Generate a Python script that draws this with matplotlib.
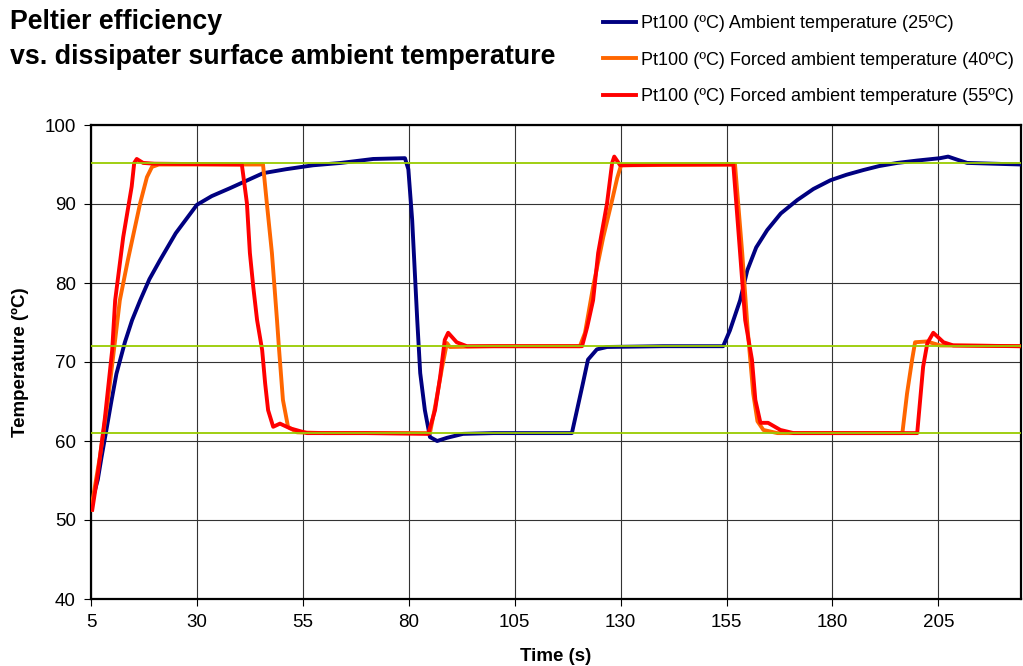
import matplotlib as mpl
import matplotlib.pyplot as plt

mpl.use("Agg")
mpl.rcParams.update({"font.family": ["Liberation Sans", "DejaVu Sans"]})

# Pt100 readings (time s, temperature ºC)
ambient_t = [5.3, 6.6, 7.5, 8.5, 9.8, 11.0, 13.0, 14.7, 16.6, 18.8, 21.3, 25.0, 30.0, 33.5, 37.8, 45.6,
             51.0, 57.4, 64.0, 71.6, 79.1, 79.9, 80.8, 82.0, 82.7, 83.8, 85.0, 86.7, 89.0, 92.8,
             100.0, 110.0, 118.5, 119.7, 121.1, 122.3, 124.4, 126.8, 140.0, 154.2, 155.8, 158.2,
             159.9, 162.0, 164.6, 167.8, 171.7, 175.5, 179.5, 183.3, 187.3, 191.0, 195.3, 200.0,
             205.4, 207.3, 209.5, 211.8, 218.0, 224.5]
ambient_T = [52.5, 55.1, 58.0, 61.0, 65.0, 68.5, 72.5, 75.3, 77.8, 80.5, 82.9, 86.3, 89.9, 91.0, 92.0,
             93.9, 94.4, 94.9, 95.2, 95.7, 95.8, 94.4, 88.0, 75.3, 68.6, 63.9, 60.5, 60.0, 60.4,
             60.9, 61.0, 61.0, 61.0, 63.9, 67.3, 70.3, 71.6, 71.9, 72.0, 72.0, 74.0, 77.8,
             81.6, 84.5, 86.7, 88.8, 90.5, 91.9, 93.0, 93.7, 94.3, 94.8, 95.2, 95.5,
             95.8, 96.0, 95.6, 95.2, 95.1, 95.0]

forced40_t = [5.0, 7.1, 9.0, 10.7, 11.8, 13.7, 16.6, 18.2, 19.4, 21.0, 45.6, 46.5, 47.7, 48.9,
              49.4, 50.3, 51.5, 53.6, 60.0, 84.6, 85.0, 86.2, 87.9, 89.0, 89.7, 100.0, 120.4,
              121.6, 123.5, 125.9, 128.0, 129.2, 130.1, 157.0, 158.7, 160.0, 161.3, 162.3, 163.7,
              167.0, 196.5, 197.6, 198.8, 199.5, 202.3, 205.4, 224.5]
forced40_T = [51.3, 58.0, 65.2, 72.8, 77.8, 82.9, 90.1, 93.4, 94.7, 95.0, 95.0, 90.1, 83.8, 75.3,
              71.5, 65.2, 61.8, 61.1, 61.0, 61.0, 61.0, 64.3, 69.4, 72.4, 71.9, 72.0, 72.0,
              73.7, 79.5, 85.8, 90.5, 93.3, 94.9, 95.0, 83.8, 74.0, 66.0, 62.5, 61.4,
              61.0, 61.0, 66.0, 70.3, 72.5, 72.6, 72.1, 72.0]

forced55_t = [5.3, 6.65, 8.3, 10.0, 10.7, 12.6, 14.6, 15.2, 15.8, 17.3, 20.0, 40.6, 41.8, 42.5,
              43.3, 44.2, 45.4, 46.1, 46.8, 48.0, 49.6, 52.0, 56.0, 70.0, 84.6, 86.2, 87.4, 88.5,
              89.3, 91.3, 93.7, 110.0, 120.9, 122.1, 123.5, 124.7, 126.8, 128.0, 128.5, 129.9,
              140.0, 156.6, 158.2, 159.4, 161.0, 161.8, 163.0, 164.8, 167.7, 170.8, 185.0, 200.0,
              200.7, 201.4, 202.4, 203.8, 206.2, 208.5, 224.5]
forced55_T = [51.3, 56.0, 63.0, 71.5, 77.8, 85.8, 92.2, 95.2, 95.7, 95.2, 95.1, 95.0, 90.1, 83.8,
              79.5, 75.3, 71.5, 67.3, 63.9, 61.8, 62.2, 61.6, 61.0, 61.0, 60.9, 63.9, 68.1, 72.8,
              73.7, 72.5, 72.0, 72.0, 72.0, 74.4, 77.8, 83.8, 90.1, 95.2, 96.0, 94.9,
              95.0, 95.0, 83.8, 75.3, 70.3, 65.2, 62.3, 62.3, 61.4, 61.0, 61.0, 61.0,
              65.2, 69.4, 72.4, 73.7, 72.5, 72.1, 72.0]

# set-point reference lines
setpoints = [95.2, 72.0, 61.0]

labels = ["Pt100 (ºC) Ambient temperature (25ºC)",
          "Pt100 (ºC) Forced ambient temperature (40ºC)",
          "Pt100 (ºC) Forced ambient temperature (55ºC)"]
x_ticks = [5, 30, 55, 80, 105, 130, 155, 180, 205]
y_ticks = [40, 50, 60, 70, 80, 90, 100]

fig = plt.figure(figsize=(10.23, 6.66), dpi=100)
ax = fig.add_axes([91 / 1023, 1 - 599 / 666, 930 / 1023, 474 / 666])

ax.plot(ambient_t, ambient_T, c="#000080", lw=2.8, label=labels[0], zorder=3)
ax.plot(forced40_t, forced40_T, c="#FF6600", lw=2.8, label=labels[1], zorder=4)
ax.plot(forced55_t, forced55_T, c="#FF0000", lw=2.8, label=labels[2], zorder=5)
for sp in setpoints:
    ax.axhline(sp, c="#99CC00", lw=1.3, zorder=6)

ax.set_xlim(5, 224.5)
ax.set_ylim(40, 100)
ax.set_xticks(x_ticks)
ax.set_yticks(y_ticks)
ax.grid(True, c="#333333", lw=0.8, zorder=1)
ax.set_axisbelow(True)
for s in ax.spines.values():
    s.set_linewidth(1.6)
    s.set_color("black")
ax.tick_params(direction="out", length=5, width=0.8, labelsize=13.5, pad=6)
ax.set_xlabel("Time (s)", fontsize=13.5, fontweight="bold", labelpad=12)
ax.set_ylabel("Temperature (ºC)", fontsize=13.5, fontweight="bold", labelpad=11)

fig.text(10 / 1023, 1 - 29 / 666, "Peltier efficiency", fontsize=19.3, fontweight="bold", va="baseline")
fig.text(10 / 1023, 1 - 64 / 666, "vs. dissipater surface ambient temperature", fontsize=19.3,
         fontweight="bold", va="baseline")

fig.legend(loc="upper left", bbox_to_anchor=(596 / 1023, 1 - 8 / 666), frameon=False, fontsize=13,
           handlelength=1.8, handletextpad=0.3, labelspacing=1.08, borderaxespad=0)

fig.savefig("out.png", dpi=100)
